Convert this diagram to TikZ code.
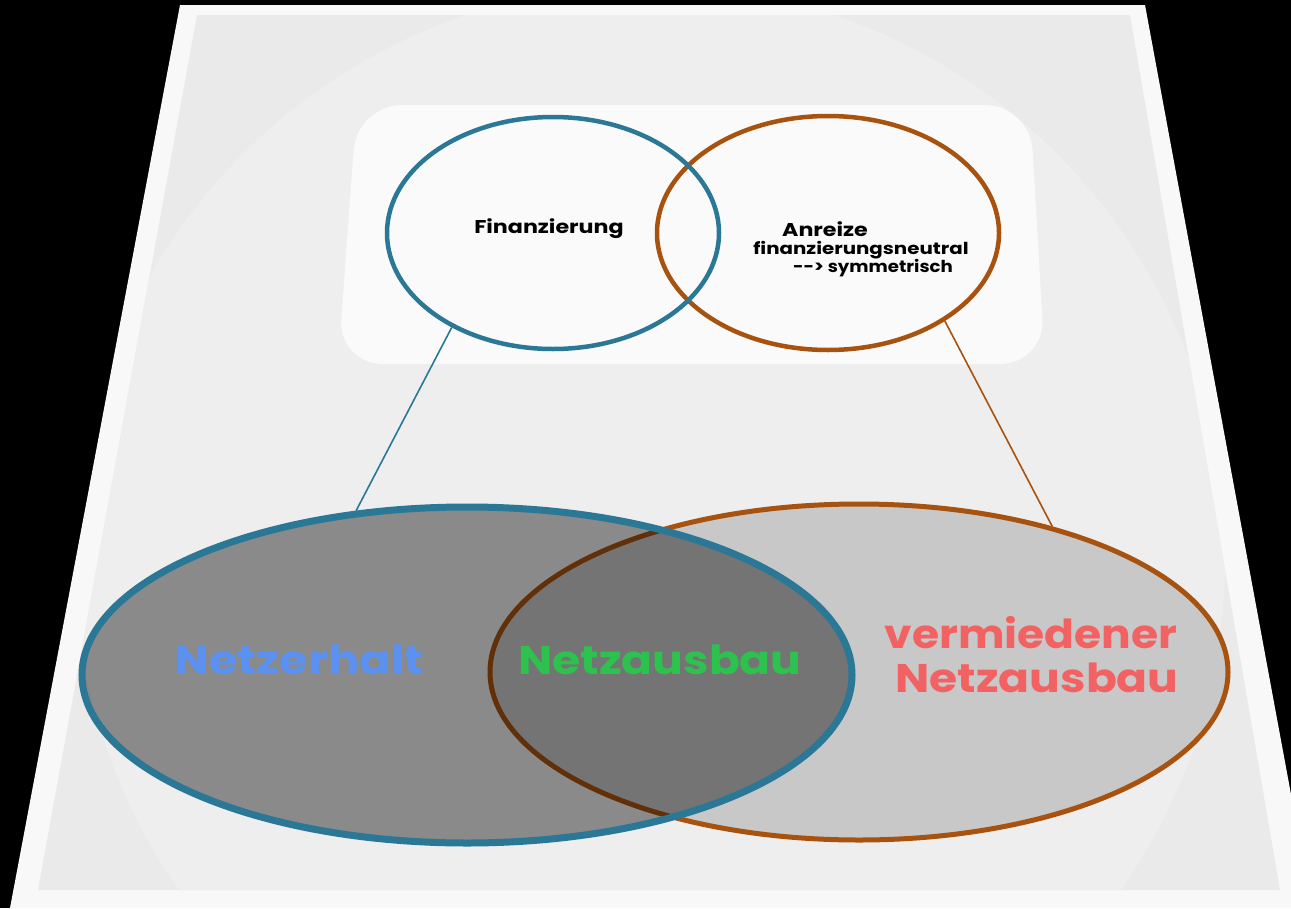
\documentclass[tikz,border=0pt]{standalone}
\usepackage{fontspec}
\setmainfont{Poppins}
\usetikzlibrary{shapes.geometric}

\definecolor{sheetwhite}{HTML}{F8F8F8}
\definecolor{sheetgray}{HTML}{EAEAEA}
\definecolor{glow}{HTML}{EEEEEE}
\definecolor{panel}{HTML}{FAFAFA}
\definecolor{tealblue}{HTML}{2A7896}
\definecolor{rust}{HTML}{A8520F}
\definecolor{lightfill}{HTML}{C8C8C8}
\definecolor{txtblue}{HTML}{5B92F2}
\definecolor{txtgreen}{HTML}{2DC24E}
\definecolor{txtred}{HTML}{F26262}

\newcommand{\wide}[2][1.2]{\scalebox{#1}[1]{#2}}

\begin{document}
\begin{tikzpicture}[x=1pt,y=-1pt,
    venn/.style={ellipse,inner sep=0pt},
    bigtxt/.style={font=\fontsize{40}{45}\selectfont\bfseries},
    smalltxt/.style={font=\fontsize{18.5}{20}\selectfont\bfseries},
    tinytxt/.style={font=\fontsize{16.5}{18}\selectfont\bfseries}]

      \useasboundingbox[fill=black] (0,0) rectangle (1291,908);

      % sheet in perspective
      \fill[sheetwhite] (180,5) -- (1145,5) -- (1312,908) -- (10,908) -- cycle;
      \begin{scope}
        \clip (197,15) -- (1130,15) -- (1280,890) -- (38,890) -- cycle;
        \fill[sheetgray] (0,0) rectangle (1291,908);
        \fill[glow] (650,560) circle (575);
      \end{scope}
      \fill[panel,rounded corners=45] (357,105) -- (1030,105) -- (1045,364) -- (338,364) -- cycle;

      % top circles
      \begin{scope}[every node/.style={venn,line width=4.5pt}]
        \node[draw=rust,minimum width=342,minimum height=234]  (anr) at (828,233) {};
        \node[draw=tealblue,minimum width=332,minimum height=232] (fin) at (553,233) {};
      \end{scope}

      \node[smalltxt] (fintxt) at (549,229) {\wide{Finanzierung}};
      \node[smalltxt] (anrtxt) at (825,229) {\wide{Anreize}};
      \node[tinytxt] (neutral) at (861,250) {\wide{finanzierungsneutral}};
      \node[tinytxt] (sym) at (873,268) {\wide[1.1]{-{}-> symmetrisch}};

      % bottom ellipses
      \node[venn,fill=lightfill,draw=rust,line width=5pt,
            minimum width=738,minimum height=336] (verm) at (859,672) {};
      \node[venn,fill=black,fill opacity=0.42,draw=tealblue,draw opacity=1,line width=7pt,
            minimum width=770,minimum height=336] (erh) at (467,675) {};

      \node[bigtxt,text=txtblue] (erhtxt) at (299,660) {\wide[1.16]{Netzerhalt}};
      \node[bigtxt,text=txtgreen] (ausbtxt) at (660,660) {\wide[1.14]{Netzausbau}};
      \node[bigtxt,text=txtred] (vermtxt) at (1031,633) {\wide[1.1]{vermiedener}};
      \node[bigtxt,text=txtred] (netztxt) at (1037,678) {\wide[1.14]{Netzausbau}};

      % connectors
      \draw[tealblue,line width=1.6pt] (fin.223.6) -- (erh.124.7);
      \draw[rust,line width=1.6pt] (anr.323.9) -- (verm.37.8);

    \end{tikzpicture}
\end{document}
